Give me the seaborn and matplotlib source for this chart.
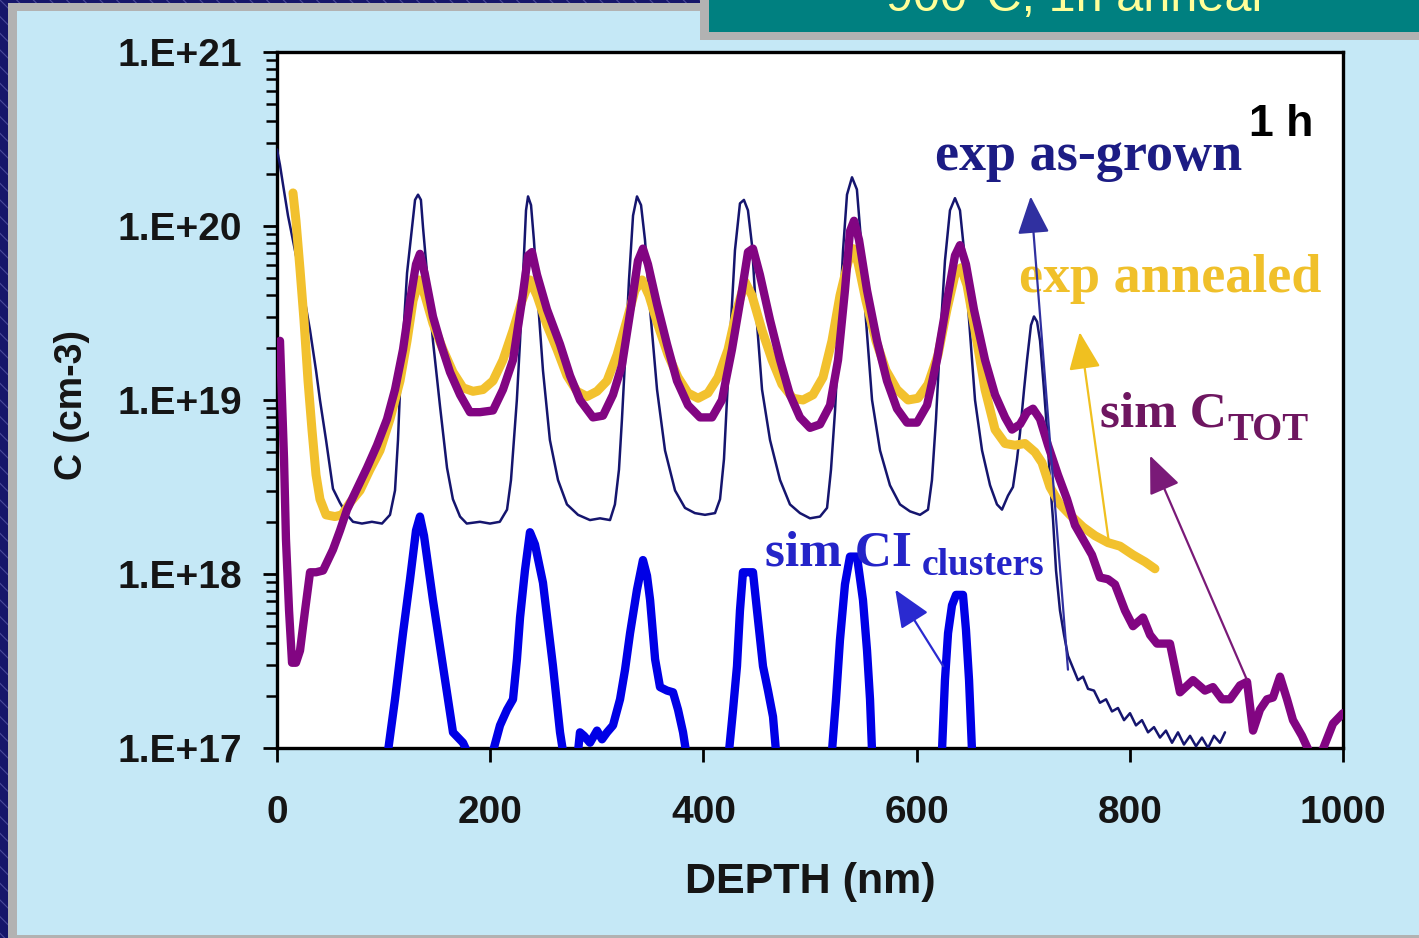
import numpy as np
import pandas as pd
import matplotlib
matplotlib.use("Agg")
import matplotlib.pyplot as plt
from matplotlib.patches import Rectangle
from matplotlib.ticker import FixedLocator, LogLocator, NullFormatter
import seaborn as sns

# ---------------- data (depth in nm, log10 of concentration in cm-3) ----------------
asgrown_depth = [0, 2.8, 5.6, 10.3, 16.9, 24.4, 31, 36.6, 40.3, 46, 52.5, 59, 65.7, 71.3, 79.7, 89, 98.5,
                 106, 110.7, 113.5, 115.4, 118.2, 122, 126.6, 129.5, 132.3, 135, 137, 140.7, 146.3, 153,
                 159.5, 165, 171.7, 178, 190.4, 199.8, 209, 215.8, 219.5, 222.3, 225, 228, 230.8, 233.6,
                 235.5, 238.3, 241, 244.8, 249.5, 256, 263.6, 272, 282.4, 293.6, 303, 312.4, 317, 320.8,
                 323.6, 326.5, 330.2, 334, 337.7, 341.5, 345.2, 350, 356.5, 364, 373.4, 382.7, 392, 401.5,
                 410.9, 415.6, 419.3, 422.1, 426, 429.6, 434.3, 438, 441.8, 445.6, 449.3, 455, 462.5,
                 471.9, 481.2, 490.6, 500, 509.4, 516, 519.7, 523.5, 527.2, 531, 534.7, 539.4, 544, 547.8,
                 552.5, 558.2, 565.7, 575, 584.4, 593.8, 603.2, 610.7, 614.4, 618.2, 622, 626.6, 631.3,
                 636, 640.7, 644.5, 649.2, 654.8, 661.4, 668.9, 675.4, 680.1, 685.7, 690.4, 694.2, 697,
                 700.8, 703.6, 707.3, 710.1, 713, 715.8, 719.5, 722.3, 725.1, 728, 730.8, 734.5, 738.3,
                 742, 746.7, 751.4, 756.1, 760.8, 766.4, 772, 777.7, 783.3, 788.9, 794.6, 800.2, 805.8,
                 811.4, 817.1, 822.7, 828.3, 833.9, 839.6, 845.2, 850.8, 856.5, 862.1, 867.7, 873.4, 879,
                 884.6, 889.3]
asgrown_log10C = [20.44, 20.35, 20.24, 20.06, 19.86, 19.63, 19.40, 19.17, 19.0, 18.77, 18.49, 18.41, 18.34,
                  18.30, 18.29, 18.30, 18.29, 18.34, 18.48, 18.77, 19.06, 19.34, 19.73, 19.99, 20.15, 20.18,
                  20.15, 19.99, 19.73, 19.34, 18.96, 18.61, 18.43, 18.33, 18.29, 18.30, 18.29, 18.30, 18.37,
                  18.54, 18.77, 19.0, 19.34, 19.72, 20.09, 20.17, 20.12, 19.92, 19.57, 19.17, 18.77, 18.54,
                  18.40, 18.34, 18.31, 18.32, 18.31, 18.40, 18.60, 18.89, 19.23, 19.69, 20.06, 20.17, 20.12,
                  19.92, 19.52, 19.06, 18.71, 18.48, 18.38, 18.35, 18.34, 18.35, 18.43, 18.66, 19.0, 19.46,
                  19.86, 20.13, 20.15, 20.09, 19.89, 19.52, 19.06, 18.77, 18.54, 18.40, 18.35, 18.32, 18.33,
                  18.38, 18.60, 18.94, 19.40, 19.86, 20.18, 20.28, 20.21, 19.92, 19.46, 19.0, 18.71, 18.51,
                  18.40, 18.36, 18.34, 18.37, 18.54, 18.89, 19.34, 19.80, 20.09, 20.16, 20.09, 19.86, 19.46,
                  19.0, 18.71, 18.51, 18.40, 18.37, 18.45, 18.50, 18.66, 18.81, 19.06, 19.23, 19.43, 19.48,
                  19.45, 19.34, 19.06, 18.83, 18.54, 18.31, 18.02, 17.79, 17.65, 17.53, 17.46, 17.39, 17.41,
                  17.34, 17.33, 17.26, 17.28, 17.21, 17.23, 17.16, 17.20, 17.13, 17.16, 17.09, 17.12, 17.06,
                  17.10, 17.03, 17.09, 17.02, 17.07, 17.01, 17.06, 17.0, 17.07, 17.03, 17.09]

annealed_depth = [15, 17.8, 21.6, 25.3, 29.1, 32.8, 36.6, 40.3, 46, 54.4, 61, 68.5, 77.9, 87.2, 96.6, 106,
                  115.4, 122, 127.6, 133.2, 138.8, 146.3, 155.7, 165.1, 174.5, 183.9, 193.2, 202.6, 212,
                  221.4, 229.8, 237.3, 243.9, 253.3, 262.7, 272, 281.4, 290.8, 300.2, 309.6, 319, 328.3,
                  335.8, 342.4, 349, 357.4, 366.8, 376.2, 385.6, 395, 404.3, 413.7, 423.1, 431.5, 439,
                  445.6, 455, 464.4, 473.7, 484, 493.4, 502.8, 512.2, 520.6, 528.1, 535.6, 540.3, 545,
                  552.5, 561.9, 571.3, 581.6, 592, 601.3, 610.7, 620.1, 628.5, 636, 641.7, 647.3, 654.8,
                  664.2, 673.6, 683, 692.3, 701.7, 711.1, 717.6, 725.1, 734.5, 743.9, 756.1, 767.4, 779.6,
                  790.8, 803, 814.3, 823.6]
annealed_log10C = [20.19, 20.03, 19.75, 19.46, 19.11, 18.83, 18.57, 18.43, 18.34, 18.33, 18.34, 18.41,
                   18.48, 18.60, 18.71, 18.89, 19.11, 19.34, 19.57, 19.69, 19.60, 19.44, 19.29, 19.16,
                   19.07, 19.05, 19.06, 19.11, 19.23, 19.40, 19.57, 19.69, 19.60, 19.43, 19.29, 19.14,
                   19.05, 19.02, 19.05, 19.11, 19.26, 19.46, 19.63, 19.69, 19.60, 19.43, 19.26, 19.13,
                   19.04, 19.01, 19.04, 19.13, 19.29, 19.52, 19.68, 19.60, 19.40, 19.23, 19.09, 19.01,
                   19.0, 19.03, 19.13, 19.34, 19.60, 19.79, 19.87, 19.79, 19.57, 19.34, 19.17, 19.06,
                   19.0, 19.01, 19.09, 19.26, 19.52, 19.72, 19.76, 19.66, 19.40, 19.06, 18.83, 18.75,
                   18.74, 18.75, 18.70, 18.64, 18.50, 18.40, 18.34, 18.27, 18.22, 18.18, 18.16, 18.11,
                   18.07, 18.03]

ctot_depth = [2.8, 4.7, 6.6, 8.4, 11.3, 14.1, 17.8, 21.6, 26.3, 31, 36.6, 43.2, 52.5, 59.1, 65.7, 75,
              84.4, 93.8, 103.2, 110.7, 118.2, 124.8, 130.4, 134.1, 138.8, 146.3, 153.8, 162.3, 171.7,
              181, 190.4, 202.6, 212, 221.4, 229.8, 235.5, 239.2, 243.9, 253.3, 265.5, 274.9, 284.2,
              296.4, 305.8, 315.2, 323.6, 333, 338.6, 343.3, 348, 356.5, 365.9, 375.2, 385.6, 396.8,
              408.1, 417.4, 426.8, 436.2, 441.8, 446.5, 453, 462.5, 471.9, 481.2, 490.6, 500, 509.4,
              518.8, 526.3, 532.8, 537.5, 541.3, 546, 553.5, 562.9, 572.2, 581.6, 591, 600.4, 609.8,
              619.1, 628.5, 636, 640.7, 646.3, 653.8, 664.2, 673.6, 683, 689.5, 697, 703.6, 709.2,
              715.8, 723.3, 732.6, 741.1, 748.6, 756.1, 764.5, 772, 779.5, 786.1, 795.5, 803, 812.4,
              819, 825.5, 837.7, 847.1, 859.3, 870.5, 878, 886.5, 894, 903.4, 910, 915.6, 922.1,
              928.7, 934.3, 940.9, 947.5, 953.1, 961.5, 969, 980.3, 990.6, 1000]
ctot_log10C = [19.34, 19.0, 18.66, 18.20, 17.79, 17.49, 17.49, 17.56, 17.79, 18.01, 18.01, 18.02, 18.14,
               18.25, 18.37, 18.49, 18.61, 18.74, 18.89, 19.06, 19.29, 19.57, 19.78, 19.84, 19.72, 19.48,
               19.32, 19.16, 19.03, 18.93, 18.93, 18.94, 19.06, 19.23, 19.57, 19.83, 19.85, 19.72, 19.52,
               19.32, 19.14, 19.0, 18.90, 18.91, 19.03, 19.20, 19.57, 19.80, 19.87, 19.78, 19.55, 19.32,
               19.11, 18.97, 18.90, 18.90, 19.0, 19.29, 19.63, 19.85, 19.87, 19.72, 19.46, 19.23, 19.03,
               18.90, 18.84, 18.86, 18.97, 19.23, 19.63, 19.97, 20.03, 19.92, 19.63, 19.34, 19.11, 18.95,
               18.87, 18.87, 18.97, 19.23, 19.57, 19.83, 19.89, 19.78, 19.52, 19.23, 19.03, 18.90, 18.83,
               18.86, 18.93, 18.95, 18.89, 18.74, 18.57, 18.43, 18.28, 18.20, 18.11, 17.98, 17.97, 17.94,
               17.79, 17.70, 17.75, 17.65, 17.60, 17.60, 17.32, 17.39, 17.33, 17.35, 17.28, 17.28, 17.36,
               17.38, 17.10, 17.22, 17.28, 17.29, 17.41, 17.28, 17.16, 17.07, 16.97, 16.98, 17.14, 17.20]

# simulated CI clusters: separate peaks (each one leaves the axis at the bottom)
clusters_segment = [1] * 12 + [2] * 13 + [3] * 22 + [4] * 12 + [5] * 10 + [6] * 9
clusters_depth = [104.1, 110.7, 118.2, 124.8, 130.4, 134.1, 137.9, 146.3, 155.7, 165.1, 174.5, 178.2,
                  202.6, 209.2, 215.8, 221.4, 225.1, 228, 232.6, 237.3, 242, 249.5, 258.9, 265.5, 268.3,
                  282.4, 284.2, 288, 293.6, 300.2, 304.9, 309.6, 315.2, 321.8, 326.5, 331.2, 337.7,
                  343.3, 347.1, 350, 354.7, 359.3, 365.9, 371.5, 376.2, 380.9, 383.7,
                  424, 427.8, 431.5, 434.3, 437.1, 441.8, 446.5, 450.3, 455.9, 460.6, 465.3, 468.1,
                  520.6, 524.4, 528.1, 532.8, 537.5, 544.1, 549.7, 553.5, 556.3, 558.2,
                  623.8, 626.6, 629.5, 633.2, 637, 643.5, 646.3, 649.2, 652]
clusters_log10C = [16.98, 17.28, 17.66, 17.97, 18.25, 18.33, 18.22, 17.85, 17.47, 17.09, 17.03, 16.98,
                   16.98, 17.13, 17.22, 17.28, 17.51, 17.75, 18.02, 18.24, 18.17, 17.95, 17.47, 17.09, 16.98,
                   16.98, 17.09, 17.07, 17.03, 17.10, 17.05, 17.09, 17.13, 17.28, 17.45, 17.66, 17.91,
                   18.08, 17.99, 17.85, 17.51, 17.35, 17.33, 17.32, 17.22, 17.09, 16.98,
                   16.98, 17.22, 17.47, 17.79, 18.01, 18.01, 18.01, 17.79, 17.47, 17.33, 17.18, 16.98,
                   16.98, 17.28, 17.62, 17.94, 18.10, 18.10, 17.85, 17.56, 17.28, 16.98,
                   16.98, 17.39, 17.66, 17.82, 17.88, 17.88, 17.68, 17.39, 16.98]

xticks = [0, 200, 400, 600, 800, 1000]
yticks = [1e17, 1e18, 1e19, 1e20, 1e21]
ytick_labels = ["1.E+17", "1.E+18", "1.E+19", "1.E+20", "1.E+21"]

# ---------------- style ----------------
sns.set_style("ticks")
plt.rcParams["font.family"] = ["Liberation Sans", "DejaVu Sans"]
plt.rcParams["hatch.linewidth"] = 0.8

W, H = 1419, 938
fig = plt.figure(figsize=(W / 100, H / 100), dpi=100)
fig.patch.set_facecolor("#c5e8f6")


def frect(x0, y0, x1, y1, **kw):
    """rectangle given in pixel coords from top-left (decoration only)"""
    fig.patches.append(Rectangle((x0 / W, 1 - y1 / H), (x1 - x0) / W, (y1 - y0) / H,
                                 transform=fig.transFigure, figure=fig, lw=0, **kw))


# slide frame decoration
frect(0, 0, 8, H, facecolor="#16166a", hatch="\\\\", edgecolor="#4a4a9a")
frect(0, 0, 702, 3, facecolor="#16166a", hatch="\\\\", edgecolor="#4a4a9a")
frect(8, 3, 702, 11, facecolor="#b2b2b2")
frect(8, 3, 17, H, facecolor="#b2b2b2")
frect(8, 935, W, H, facecolor="#b2b2b2")
frect(700, 0, W, 40, facecolor="#b2b2b2")
frect(709, 0, W, 32, facecolor="#008080")
fig.text(886 / W, 1 - 11 / H, "900°C, 1h anneal", color="#ffff99", fontsize=35,
         ha="left", va="baseline", family=["Liberation Sans", "DejaVu Sans"])

ax = fig.add_axes([277 / W, 1 - 748 / H, 1066 / W, 696 / H])
ax.set_facecolor("white")

df_ag = pd.DataFrame({"depth": asgrown_depth, "C": 10 ** np.array(asgrown_log10C)})
df_an = pd.DataFrame({"depth": annealed_depth, "C": 10 ** np.array(annealed_log10C)})
df_ct = pd.DataFrame({"depth": ctot_depth, "C": 10 ** np.array(ctot_log10C)})
df_cl = pd.DataFrame({"depth": clusters_depth, "C": 10 ** np.array(clusters_log10C),
                      "segment": clusters_segment})

sns.lineplot(data=df_ag, x="depth", y="C", ax=ax, color="#15156e", linewidth=1.8,
             estimator=None, sort=False, zorder=3)
sns.lineplot(data=df_an, x="depth", y="C", ax=ax, color="#f2c12e", linewidth=6.5,
             estimator=None, sort=False, zorder=4)
sns.lineplot(data=df_ct, x="depth", y="C", ax=ax, color="#820582", linewidth=6,
             estimator=None, sort=False, zorder=5)
sns.lineplot(data=df_cl, x="depth", y="C", units="segment", ax=ax, color="#0000e6", linewidth=6,
             estimator=None, sort=False, zorder=5)

ax.set_yscale("log")
ax.set_xlim(0, 1000)
ax.set_ylim(1e17, 1e21)
ax.xaxis.set_major_locator(FixedLocator(xticks))
ax.set_xticklabels([str(t) for t in xticks])
ax.yaxis.set_major_locator(FixedLocator(yticks))
ax.set_yticklabels(ytick_labels)
ax.yaxis.set_minor_locator(LogLocator(base=10, subs=np.arange(2, 10)))
ax.yaxis.set_minor_formatter(NullFormatter())
ax.tick_params(axis="both", which="major", direction="out", length=10, width=2, color="black",
               labelsize=28, labelcolor="#151515")
ax.tick_params(axis="y", which="major", pad=15)
ax.tick_params(axis="x", which="major", pad=24)
ax.tick_params(axis="y", which="minor", direction="out", length=8, width=1.8, color="black")
ax.tick_params(axis="x", which="minor", length=0)
for lab in ax.get_xticklabels() + ax.get_yticklabels():
    lab.set_fontweight("bold")
for s in ax.spines.values():
    s.set_visible(True)
    s.set_color("black")
    s.set_linewidth(2.4)

ax.set_xlabel("DEPTH (nm)", fontsize=31, fontweight="bold", color="#151515")
ax.set_ylabel("C (cm-3)", fontsize=27, fontweight="bold", color="#151515")
ax.xaxis.label.set_va("center")
ax.yaxis.label.set_va("center")
ax.xaxis.label.set_rotation_mode("anchor")
ax.yaxis.label.set_rotation_mode("anchor")
ax.xaxis.set_label_coords((810 - 277) / 1066, (748 - 882) / 696)
ax.yaxis.set_label_coords((72 - 277) / 1066, (748 - 405) / 696)

# annotations
serif = ["Liberation Serif", "DejaVu Serif"]
ax.text(972, 10 ** 20.52, "1 h", fontsize=32, fontweight="bold", color="black",
        ha="right", va="baseline")
ax.text(761.7, 10 ** 20.32, "exp as-grown", fontsize=39, fontweight="bold", color="#1c1c84",
        ha="center", va="baseline", family=serif)
ax.text(837.7, 10 ** 19.62, "exp annealed", fontsize=39, fontweight="bold", color="#f0c02a",
        ha="center", va="baseline", family=serif)
ax.text(772, 10 ** 18.845, "sim C", fontsize=37, fontweight="bold", color="#6e1660",
        ha="left", va="baseline", family=serif)
ax.text(892, 10 ** 18.77, "TOT", fontsize=28, fontweight="bold", color="#6e1660",
        ha="left", va="baseline", family=serif)
ax.text(457.8, 10 ** 18.05, "sim CI", fontsize=37, fontweight="bold", color="#2424c8",
        ha="left", va="baseline", family=serif, zorder=6)
ax.text(605, 10 ** 17.994, "clusters", fontsize=27, fontweight="bold", color="#2424c8",
        ha="left", va="baseline", family=serif, zorder=6)


def arrow(tail, tip, color):
    ax.annotate("", xy=(tip[0], 10 ** tip[1]), xytext=(tail[0], 10 ** tail[1]),
                arrowprops=dict(arrowstyle="-|>,head_length=1.3,head_width=0.55", color=color,
                                lw=1.6, shrinkA=0, shrinkB=0, mutation_scale=18), zorder=7)


arrow((742, 17.45), (707, 20.17), "#3030a0")
arrow((780, 18.20), (753, 19.39), "#f0c020")
arrow((910, 17.39), (819, 18.68), "#7a1a78")
arrow((625, 17.47), (580, 17.91), "#2a2ad0")

fig.savefig("out.png", dpi=100, facecolor=fig.get_facecolor())
